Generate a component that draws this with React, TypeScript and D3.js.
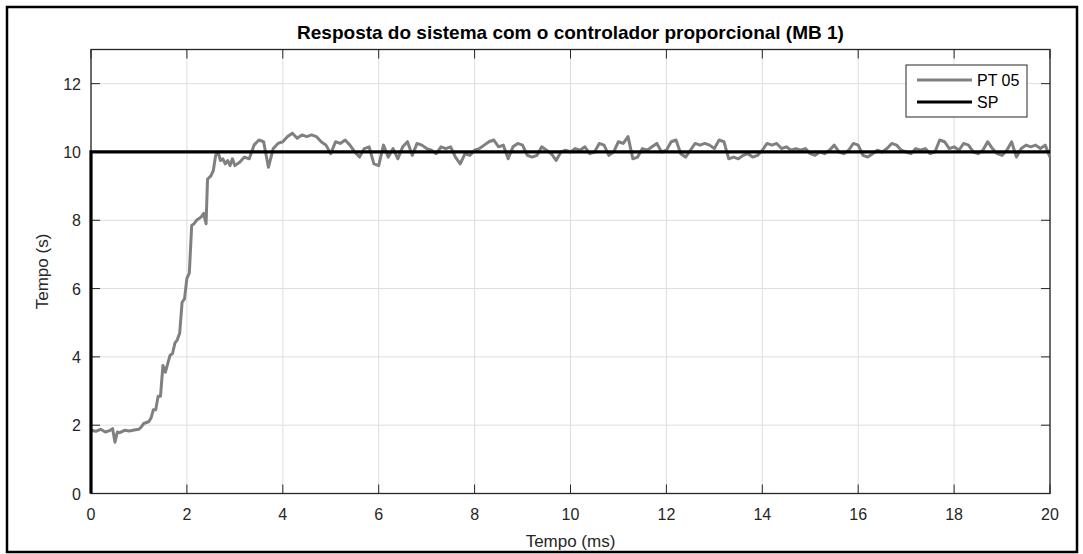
import React from "react";
import * as d3 from "d3";

const titleText = "Resposta do sistema com o controlador proporcional (MB 1)";
const xLabelText = "Tempo (ms)";
const yLabelText = "Tempo (s)";
const seriesNames = ["PT 05", "SP"];

const xTicks = [0, 2, 4, 6, 8, 10, 12, 14, 16, 18, 20];
const yTicks = [0, 2, 4, 6, 8, 10, 12];

// rising part of PT 05: [time ms, value]
const riseTimes = [0.0, 0.1, 0.2, 0.3, 0.4, 0.45, 0.5, 0.55, 0.6, 0.7, 0.8, 0.9, 1.0, 1.05, 1.1, 1.2, 1.25, 1.3, 1.35, 1.4, 1.45, 1.5, 1.55, 1.6, 1.65, 1.7, 1.75, 1.8, 1.85, 1.9, 1.95, 2.0, 2.05, 2.1, 2.15, 2.2, 2.3, 2.35, 2.4, 2.43, 2.5, 2.55, 2.6, 2.65, 2.7, 2.75, 2.8, 2.85, 2.9, 2.95];
const riseValues = [1.85, 1.82, 1.88, 1.8, 1.85, 1.9, 1.5, 1.8, 1.78, 1.85, 1.83, 1.86, 1.88, 1.95, 2.05, 2.1, 2.2, 2.45, 2.45, 2.85, 2.85, 3.75, 3.55, 3.8, 4.05, 4.1, 4.4, 4.5, 4.7, 5.6, 5.7, 6.3, 6.45, 7.85, 7.9, 8.0, 8.1, 8.2, 7.9, 9.2, 9.3, 9.45, 9.9, 10.0, 9.75, 9.8, 9.65, 9.75, 9.6, 9.8];

// settled part of PT 05, from 3.0 ms every 0.1 ms
const settleStart = 3.0;
const settleStep = 0.1;
const settleValues = [
  9.6, 9.7, 9.85, 9.8, 10.2, 10.35, 10.3, 9.55, 10.1, 10.25,
  10.3, 10.45, 10.55, 10.4, 10.5, 10.45, 10.5, 10.45, 10.3, 10.2,
  9.95, 10.3, 10.25, 10.35, 10.2, 10.0, 9.85, 10.1, 10.15, 9.65,
  9.6, 10.2, 9.85, 10.1, 9.8, 10.15, 10.3, 9.9, 10.25, 10.2,
  10.1, 10.05, 9.95, 10.15, 10.1, 10.15, 9.85, 9.65, 9.95, 9.9,
  10.05, 10.1, 10.2, 10.3, 10.35, 10.15, 10.2, 9.8, 10.15, 10.25,
  10.2, 9.9, 9.85, 9.9, 10.15, 10.05, 9.95, 9.75, 10.0, 10.05,
  10.0, 10.1, 10.05, 10.15, 9.95, 10.0, 10.25, 10.2, 9.9, 10.0,
  10.3, 10.25, 10.45, 9.8, 9.85, 10.1, 10.05, 10.15, 10.25, 10.0,
  10.05, 10.3, 10.35, 9.95, 9.85, 10.05, 10.25, 10.2, 10.25, 10.2,
  10.1, 10.35, 10.3, 9.8, 9.85, 9.8, 9.9, 9.95, 9.85, 9.9,
  10.05, 10.25, 10.2, 10.25, 10.1, 10.15, 10.05, 10.1, 10.05, 10.1,
  9.95, 9.9, 10.0, 9.95, 10.05, 10.2, 10.0, 9.95, 10.05, 10.25,
  10.2, 9.9, 9.85, 9.95, 10.05, 10.0, 10.1, 10.25, 10.2, 10.05,
  10.0, 9.95, 10.1, 10.05, 10.1, 9.95, 10.0, 10.35, 10.3, 10.1,
  10.15, 10.05, 10.25, 10.2, 10.0, 9.95, 10.05, 10.3, 10.1, 9.95,
  9.9, 10.05, 10.3, 9.85, 10.1, 10.2, 10.15, 10.2, 10.1, 10.2,
  9.85,
];

// set point
const spTimes = [0, 0, 20];
const spValues = [0, 10, 10];

const W = 1083;
const H = 554;
const M = { left: 91, right: 1050, top: 49.5, bottom: 493.5 };
const FONT = "'Liberation Sans', Arial, Helvetica, sans-serif";
const AX = "#262626";

export default function App() {
  const x = d3.scaleLinear().domain([0, 20]).range([M.left, M.right]);
  const y = d3.scaleLinear().domain([0, 13]).range([M.bottom, M.top]);

  const ptData: [number, number][] = [
    ...riseTimes.map((t, i) => [t, riseValues[i]] as [number, number]),
    ...settleValues.map((v, i) => [settleStart + i * settleStep, v] as [number, number]),
  ];
  const spData: [number, number][] = spTimes.map((t, i) => [t, spValues[i]]);

  const line = d3
    .line<[number, number]>()
    .x((d) => x(d[0]))
    .y((d) => y(d[1]));

  const tickLen = 9;

  return (
    <svg
      width={W}
      height={H}
      style={{ position: "absolute", left: 0, top: 0, background: "#fff" }}
      fontFamily={FONT}
    >
      <rect x={0} y={0} width={W} height={H} fill="#fff" />
      <rect x={7} y={7} width={1070} height={545} fill="none" stroke="#000" strokeWidth={2.5} />

      {/* grid */}
      {xTicks.map((t) => (
        <line key={"gx" + t} x1={x(t)} x2={x(t)} y1={M.top} y2={M.bottom} stroke="#dedede" strokeWidth={1} />
      ))}
      {yTicks.map((t) => (
        <line key={"gy" + t} x1={M.left} x2={M.right} y1={y(t)} y2={y(t)} stroke="#dedede" strokeWidth={1} />
      ))}

      {/* ticks */}
      {xTicks.map((t) => (
        <g key={"tx" + t}>
          <line x1={x(t)} x2={x(t)} y1={M.bottom} y2={M.bottom - tickLen} stroke={AX} strokeWidth={1} />
          <line x1={x(t)} x2={x(t)} y1={M.top} y2={M.top + tickLen} stroke={AX} strokeWidth={1} />
          <text x={x(t)} y={M.bottom + 26} textAnchor="middle" fontSize={16} fill={AX}>
            {t}
          </text>
        </g>
      ))}
      {yTicks.map((t) => (
        <g key={"ty" + t}>
          <line x1={M.left} x2={M.left + tickLen} y1={y(t)} y2={y(t)} stroke={AX} strokeWidth={1} />
          <line x1={M.right} x2={M.right - tickLen} y1={y(t)} y2={y(t)} stroke={AX} strokeWidth={1} />
          <text x={M.left - 10} y={y(t) + 6} textAnchor="end" fontSize={16} fill={AX}>
            {t}
          </text>
        </g>
      ))}

      {/* axes box */}
      <rect
        x={M.left}
        y={M.top}
        width={M.right - M.left}
        height={M.bottom - M.top}
        fill="none"
        stroke={AX}
        strokeWidth={1.3}
      />

      {/* series */}
      <path d={line(ptData) || ""} fill="none" stroke="#808080" strokeWidth={3} strokeLinejoin="round" />
      <path d={line(spData) || ""} fill="none" stroke="#000" strokeWidth={3.2} />

      {/* title and labels */}
      <text x={(M.left + M.right) / 2} y={39} textAnchor="middle" fontSize={19} fontWeight="bold" fill="#000">
        {titleText}
      </text>
      <text x={(M.left + M.right) / 2} y={547} textAnchor="middle" fontSize={17} fill={AX}>
        {xLabelText}
      </text>
      <text
        transform={`translate(48, ${(M.top + M.bottom) / 2}) rotate(-90)`}
        textAnchor="middle"
        fontSize={17}
        fill={AX}
      >
        {yLabelText}
      </text>

      {/* legend */}
      <g>
        <rect x={906} y={65} width={121} height={52} fill="#fff" stroke={AX} strokeWidth={1} />
        <line x1={917} x2={972} y1={80} y2={80} stroke="#808080" strokeWidth={3} />
        <text x={977} y={86} fontSize={16} fill="#000">
          {seriesNames[0]}
        </text>
        <line x1={917} x2={972} y1={102} y2={102} stroke="#000" strokeWidth={3.2} />
        <text x={977} y={108} fontSize={16} fill="#000">
          {seriesNames[1]}
        </text>
      </g>
    </svg>
  );
}
